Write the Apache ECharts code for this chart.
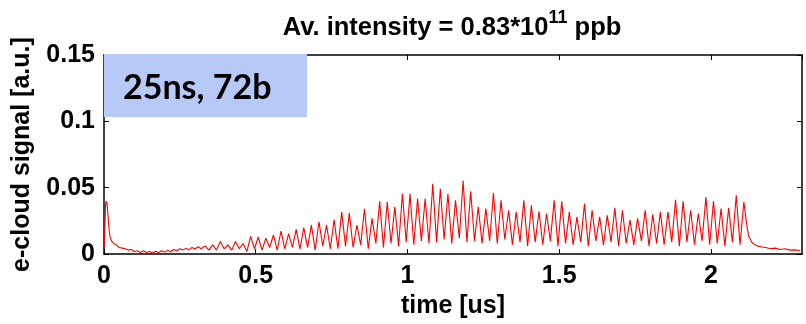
<!DOCTYPE html>
<html><head><meta charset="utf-8">
<script src="https://cdn.jsdelivr.net/npm/echarts/dist/echarts.min.js"></script>
<style>html,body{margin:0;padding:0;background:#fff}#c{width:806px;height:324px}</style>
</head><body><div id="c"></div>
<script>
// ---- data ----
var titleText = 'Av. intensity = 0.83*10';
var titleSup = '11';
var titleTail = ' ppb';
var xTicks = [0, 0.5, 1, 1.5, 2];
var yTicks = [0, 0.05, 0.1, 0.15];
var boxLabel = '25ns, 72b';

// start of record: spike and noisy baseline (time [us], signal)
var headTimes  = [0, 0.002, 0.005, 0.007, 0.010, 0.013, 0.016, 0.020, 0.025, 0.032, 0.040, 0.050, 0.060, 0.070, 0.080, 0.090, 0.100, 0.110, 0.120, 0.130, 0.140, 0.150, 0.160, 0.170, 0.180, 0.190, 0.200, 0.210, 0.220, 0.230, 0.240, 0.250, 0.260, 0.270, 0.280, 0.290, 0.300, 0.310, 0.320];
var headValues = [0.005, 0.014, 0.036, 0.040, 0.038, 0.030, 0.020, 0.013, 0.010, 0.008, 0.007, 0.005, 0.0045, 0.004, 0.003, 0.0035, 0.002, 0.0025, 0.001, 0.0025, 0.0012, 0.002, 0.0008, 0.0022, 0.0012, 0.0025, 0.0015, 0.003, 0.0018, 0.0035, 0.0025, 0.004, 0.003, 0.0045, 0.0032, 0.005, 0.0038, 0.0055, 0.004];

// 72 bunches, 25 ns apart
var bunchFirstTime = 0.3333;
var bunchSpacing = 0.025;
var bunchPeaks = [
  0.0062, 0.007, 0.0095, 0.007, 0.0095, 0.008, 0.0134, 0.0129,
  0.012, 0.0144, 0.0174, 0.0154, 0.0186, 0.0199, 0.0219, 0.0244, 0.0219, 0.0259,
  0.0318, 0.031, 0.0219, 0.0341, 0.0269, 0.0398, 0.0393, 0.0356, 0.0455, 0.0455,
  0.0418, 0.0418, 0.053, 0.0492, 0.0455, 0.0405, 0.0555, 0.0473, 0.0356, 0.0343,
  0.046, 0.0405, 0.033, 0.0318, 0.0405, 0.0368, 0.0323, 0.0306, 0.0405, 0.0398,
  0.0318, 0.0281, 0.038, 0.033, 0.0281, 0.0293, 0.0348, 0.033, 0.0256, 0.0269,
  0.033, 0.03, 0.0318, 0.0318, 0.041, 0.0398, 0.033, 0.0306, 0.043, 0.0398,
  0.0343, 0.0348, 0.0443, 0.0393
];
// minima between consecutive bunches
var bunchTroughs = [
  0.003, 0.003, 0.004, 0.003, 0.004, 0.002,
  0.004, 0.003, 0.005, 0.003, 0.004, 0.005, 0.004,
  0.005, 0.003, 0.006, 0.004, 0.004, 0.006, 0.005,
  0.007, 0.004, 0.008, 0.005, 0.008, 0.006, 0.009, 0.007,
  0.010, 0.008, 0.009, 0.011, 0.008, 0.012, 0.009, 0.010,
  0.008, 0.010, 0.008, 0.011, 0.007, 0.009, 0.006, 0.009,
  0.007, 0.010, 0.006, 0.008, 0.007, 0.009, 0.006, 0.010,
  0.007, 0.009, 0.006, 0.008, 0.007, 0.010, 0.006, 0.008,
  0.007, 0.009, 0.006, 0.009, 0.007, 0.010, 0.007, 0.008,
  0.006, 0.009, 0.007
];

// decay after the train
var tailTimes  = [2.118, 2.124, 2.135, 2.151, 2.165, 2.179, 2.195, 2.212, 2.228, 2.244, 2.260, 2.277, 2.294];
var tailValues = [0.022, 0.0137, 0.0087, 0.0062, 0.0055, 0.005, 0.0042, 0.0045, 0.0035, 0.004, 0.003, 0.0032, 0.0025];

// ---- build series ----
var seriesData = [];
headTimes.forEach(function (t, i) { seriesData.push([t, headValues[i]]); });
bunchPeaks.forEach(function (p, i) {
  var t = bunchFirstTime + i * bunchSpacing;
  seriesData.push([t, p]);
  if (i < bunchTroughs.length) seriesData.push([t + bunchSpacing / 2, bunchTroughs[i]]);
});
tailTimes.forEach(function (t, i) { seriesData.push([t, tailValues[i]]); });

var FONT = '"Liberation Sans", Arial, Helvetica, sans-serif';
var mainFont = 'bold 25.5px ' + FONT;
var supFont = 'bold 18px ' + FONT;
var mctx = document.createElement('canvas').getContext('2d');
function textW(font, s) { mctx.font = font; return mctx.measureText(s).width; }
var w1 = textW(mainFont, titleText), w2 = textW(supFont, titleSup), w3 = textW(mainFont, titleTail);
var titleCenter = 452;
var tx0 = titleCenter - (w1 + w2 + w3) / 2;

var chart = echarts.init(document.getElementById('c'), null, {renderer: 'canvas'});
var labelFont = {fontFamily: FONT, fontWeight: 'bold', fontSize: 25, color: '#000'};
var nameFont = {fontFamily: FONT, fontWeight: 'bold', fontSize: 25, color: '#000'};
var axLine = {show: true, onZero: false, lineStyle: {color: '#000', width: 1.5}};
var axTick = {show: true, inside: true, length: 5, lineStyle: {color: '#000', width: 1}};
function xFmt(v) { return xTicks.indexOf(Math.round(v * 100) / 100) >= 0 ? String(v) : ''; }
function yFmt(v) { return yTicks.indexOf(Math.round(v * 1000) / 1000) >= 0 ? String(Math.round(v * 1000) / 1000) : ''; }

chart.setOption({
  animation: false,
  backgroundColor: '#fff',
  grid: {left: 104, right: 4, top: 55, bottom: 67},
  xAxis: [
    {type: 'value', min: 0, max: 2.3, interval: 0.5, position: 'bottom',
     axisLine: axLine, axisTick: axTick, splitLine: {show: false},
     axisLabel: Object.assign({margin: 10, formatter: xFmt, showMaxLabel: false}, labelFont),
     name: 'time [us]', nameLocation: 'middle', nameGap: 39,
     nameTextStyle: nameFont},
    {type: 'value', min: 0, max: 2.3, interval: 0.5, position: 'top',
     axisLine: axLine, axisTick: axTick, splitLine: {show: false}, axisLabel: {show: false}}
  ],
  yAxis: [
    {type: 'value', min: 0, max: 0.15, interval: 0.05, position: 'left',
     axisLine: axLine, axisTick: axTick, splitLine: {show: false},
     axisLabel: Object.assign({margin: 9, formatter: yFmt}, labelFont),
     name: 'e-cloud signal [a.u.]', nameLocation: 'middle', nameGap: 69, nameRotate: 90,
     nameTextStyle: nameFont},
    {type: 'value', min: 0, max: 0.15, interval: 0.05, position: 'right',
     axisLine: axLine, axisTick: axTick, splitLine: {show: false}, axisLabel: {show: false}}
  ],
  series: [{
    type: 'line', xAxisIndex: 0, yAxisIndex: 0, data: seriesData,
    showSymbol: false, symbol: 'none', smooth: false,
    lineStyle: {color: '#ff0000', width: 1.1}, z: 3
  }],
  graphic: [
    {type: 'text', left: tx0, top: 15, z: 50, style: {text: titleText, font: mainFont, fill: '#000'}},
    {type: 'text', left: tx0 + w1, top: 9, z: 50, style: {text: titleSup, font: supFont, fill: '#000'}},
    {type: 'text', left: tx0 + w1 + w2, top: 15, z: 50, style: {text: titleTail, font: mainFont, fill: '#000'}},
    {type: 'rect', left: 104, top: 54, z: 100, shape: {width: 203, height: 63}, style: {fill: '#b7c9f6'}},
    {type: 'text', left: 123, top: 71, z: 101,
     style: {text: boxLabel, font: 'bold 34px Lato, "Open Sans", sans-serif', fill: '#000'}}
  ]
});
</script></body></html>
